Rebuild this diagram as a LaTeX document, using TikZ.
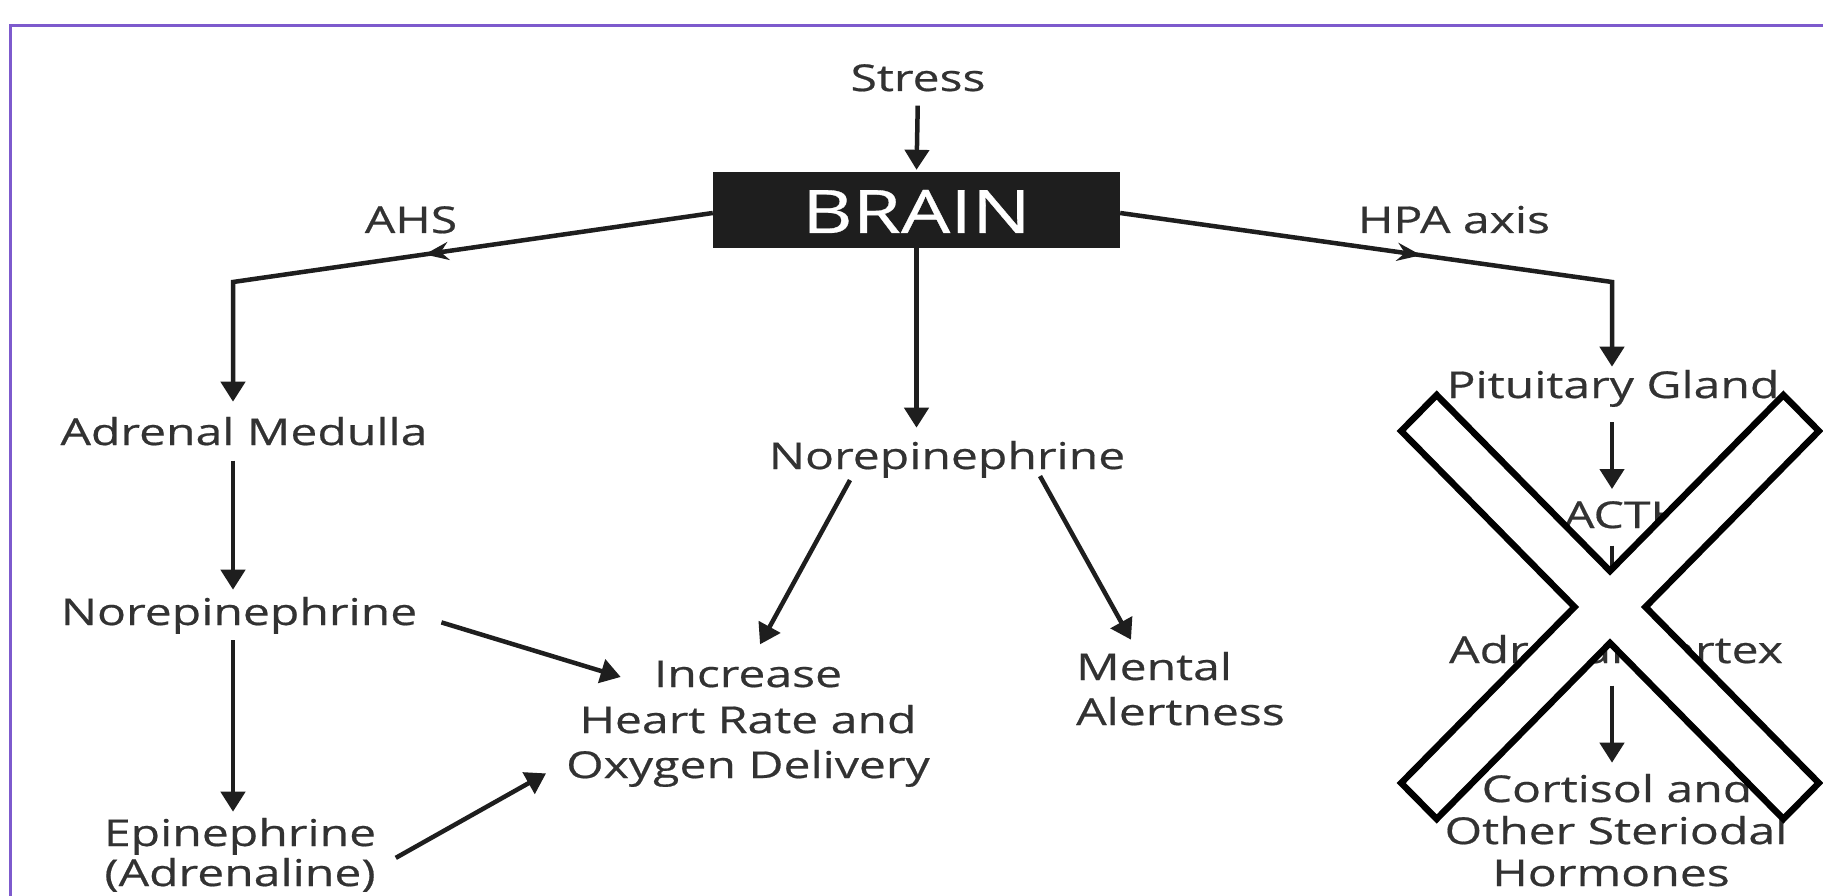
\documentclass[tikz,border=0pt]{standalone}
\usepackage{fontspec}
\newfontfamily\labfont[FakeStretch=1.3,FakeBold=0.5]{Open Sans}
\usetikzlibrary{arrows.meta,calc,decorations.markings}
\definecolor{ink}{RGB}{30,30,30}
\definecolor{txt}{RGB}{50,50,50}
\definecolor{framecol}{RGB}{125,90,205}
\begin{document}
\begin{tikzpicture}[x=1pt,y=-1pt,
  lbl/.style={font=\labfont\fontsize{37}{44}\selectfont, text=txt, inner sep=0pt, anchor=base},
  arr/.style={draw=ink, line width=4.5pt, -{Triangle[length=20pt,width=24pt]}},
  midarr/.style={postaction={decorate}, decoration={markings, mark=at position #1 with {\arrow{Stealth[length=24pt,width=18pt]}}}},
]
\useasboundingbox (0,0) rectangle (1823,896);
\fill[white] (0,0) rectangle (1823,896);
\draw[framecol, line width=3pt] (10,896) -- (10,26) -- (1823,26);

% nodes
\node[lbl] (stress) at (918,91) {Stress};
\node[fill=ink, minimum width=407pt, minimum height=76pt, inner sep=0pt, text=white,
      text height=46pt, text depth=0pt,
      font=\labfont\fontsize{60}{64}\selectfont] (brain) at (916.5,210) {BRAIN};
\node[lbl] (ahs) at (411,233) {AHS};
\node[lbl] (hpa) at (1454,233) {HPA axis};
\coordinate (ahsc) at (233,282);
\coordinate (hpac) at (1612,282);

\node[lbl] (am) at (244,445) {Adrenal Medulla};
\node[lbl] (nel) at (239,625) {Norepinephrine};
\node[lbl] (epi) at (240,846) {Epinephrine};
\node[lbl] (adr) at (240,886) {(Adrenaline)};

\node[lbl] (nec) at (947,469) {Norepinephrine};
\node[lbl] (inc) at (748,687) {Increase};
\node[lbl] (inc2) at (748,733) {Heart Rate and};
\node[lbl] (inc3) at (748,778) {Oxygen Delivery};
\node[lbl, anchor=base west] (men) at (1076,680) {Mental};
\node[lbl, anchor=base west] (men2) at (1076,725) {Alertness};

\node[lbl] (pit) at (1613,398) {Pituitary Gland};
\node[lbl] (acth) at (1625,528) {ACTH};
\node[lbl] (adc) at (1616,663) {Adrenal Cortex};
\node[lbl] (cor) at (1617,802) {Cortisol and};
\node[lbl] (cor2) at (1616,844) {Other Steriodal};
\node[lbl] (cor3) at (1611,886) {Hormones};

% connectors
\draw[arr, shorten <=14pt, shorten >=2pt] (stress.south) -- (brain.north);
\draw[arr, midarr=0.47, shorten >=15pt] ($(brain.west)+(0,3)$) -- (ahsc) -- (ahsc |- am.north);
\draw[arr, midarr=0.52, shorten >=3pt] ($(brain.east)+(0,3)$) -- (hpac) -- (hpac |- pit.north);
\draw[arr, shorten >=13pt] (brain.south) -- (brain.south |- nec.north);

\draw[arr, shorten <=15pt, shorten >=7pt] (ahsc |- am.south) -- (ahsc |- nel.north);
\draw[arr, shorten <=6pt, shorten >=6pt] (ahsc |- nel.south) -- (ahsc |- epi.north);
\draw[arr] ($(nel.east)+(24,7)$) -- ($(inc.west)+(-33,3)$);
\draw[arr] ($(adr.east)+(20,-17)$) -- ($(inc3.west)+(-20,5)$);

\draw[arr] ($(nec.south)+(-97,2)$) -- ($(inc.north)+(12,-16)$);
\draw[arr] ($(nec.south)+(93,-2)$) -- ($(men.north west)+(55,-12)$);

\draw[arr, shorten <=15pt, shorten >=12pt] (hpac |- pit.south) -- (hpac |- acth.north);
\draw[arr, shorten <=17pt, shorten >=3pt] (hpac |- acth.south) -- (hpac |- adc.north);
\draw[arr, shorten <=22pt, shorten >=11pt] (hpac |- adc.south) -- (hpac |- cor.north);

% big X over the HPA branch
\begin{scope}[shift={(1610,607)}, xscale=0.985]
\draw[black, line width=6.5pt, fill=white, line join=miter]
  (-176,-212) -- (0,-36) -- (176,-212) -- (212,-176) -- (36,0) -- (212,176)
  -- (176,212) -- (0,36) -- (-176,212) -- (-212,176) -- (-36,0) -- (-212,-176) -- cycle;
\end{scope}
\end{tikzpicture}
\end{document}
